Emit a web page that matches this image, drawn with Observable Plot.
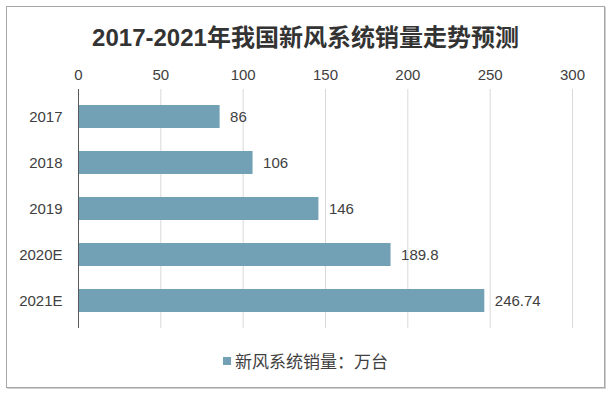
<!DOCTYPE html>
<html>
<head>
<meta charset="utf-8">
<script src="https://cdn.jsdelivr.net/npm/d3@7"></script>
<script src="https://cdn.jsdelivr.net/npm/@observablehq/plot@0.6"></script>
<style>
  html, body { margin: 0; padding: 0; background: #fff; }
  #wrap { position: relative; width: 611px; height: 394px; overflow: hidden; }
  #frame { position: absolute; left: 6px; top: 6px; width: 597px; height: 380px; border: 1px solid #a6a6a6; box-shadow: 1px 1px 0 #d0d0d0; }
  #title { position: absolute; left: 0; top: 23px; width: 611px; text-align: center; font: bold 24px/30px "Liberation Sans", "Noto Sans CJK SC", sans-serif; color: #333; }
  #chart { position: absolute; left: 0; top: 56px; }
  #legend { position: absolute; left: 223px; top: 350px; height: 22px; display: flex; align-items: center; font: 17px/22px "Noto Sans CJK SC", sans-serif; color: #404040; }
  #legend .sw { width: 8px; height: 8px; margin-right: 4px; }
</style>
</head>
<body>
<div id="wrap">
  <div id="frame"></div>
  <div id="title"></div>
  <div id="chart"></div>
  <div id="legend"><div class="sw"></div><span id="legtext"></span></div>
</div>
<script>
const title = "2017-2021年我国新风系统销量走势预测";
const categories = ["2017", "2018", "2019", "2020E", "2021E"];
const values = [86, 106, 146, 189.8, 246.74];
const xTicks = [0, 50, 100, 150, 200, 250, 300];
const seriesName = "新风系统销量：万台";
const barColor = "#72A1B5";

const data = categories.map((c, i) => ({year: c, value: values[i]}));

document.getElementById("title").textContent = title;
document.getElementById("legtext").textContent = seriesName;
document.querySelector("#legend .sw").style.background = barColor;

const chart = Plot.plot({
  width: 611,
  height: 272,
  marginLeft: 78,
  marginRight: 39,
  marginTop: 33,
  marginBottom: 0,
  style: {fontSize: "15px", fontFamily: "'Liberation Sans', Arial, sans-serif", color: "#404040", background: "transparent"},
  x: {domain: [0, 300], axis: "top", ticks: xTicks, tickSize: 0, tickPadding: 10, label: null},
  y: {domain: categories, paddingInner: 0.5, paddingOuter: 0.3, tickSize: 0, tickPadding: 16, label: null},
  marks: [
    Plot.ruleX(xTicks.filter(t => t > 0), {stroke: "#d9d9d9", strokeWidth: 1}),
    Plot.barX(data, {x: "value", y: "year", fill: barColor}),
    Plot.ruleX([0], {stroke: "#595959", strokeWidth: 1}),
    Plot.text(data, {x: "value", y: "year", text: d => String(d.value), dx: 10, textAnchor: "start", fill: "#404040", fontSize: 15})
  ]
});
document.getElementById("chart").appendChild(chart);
</script>
</body>
</html>
